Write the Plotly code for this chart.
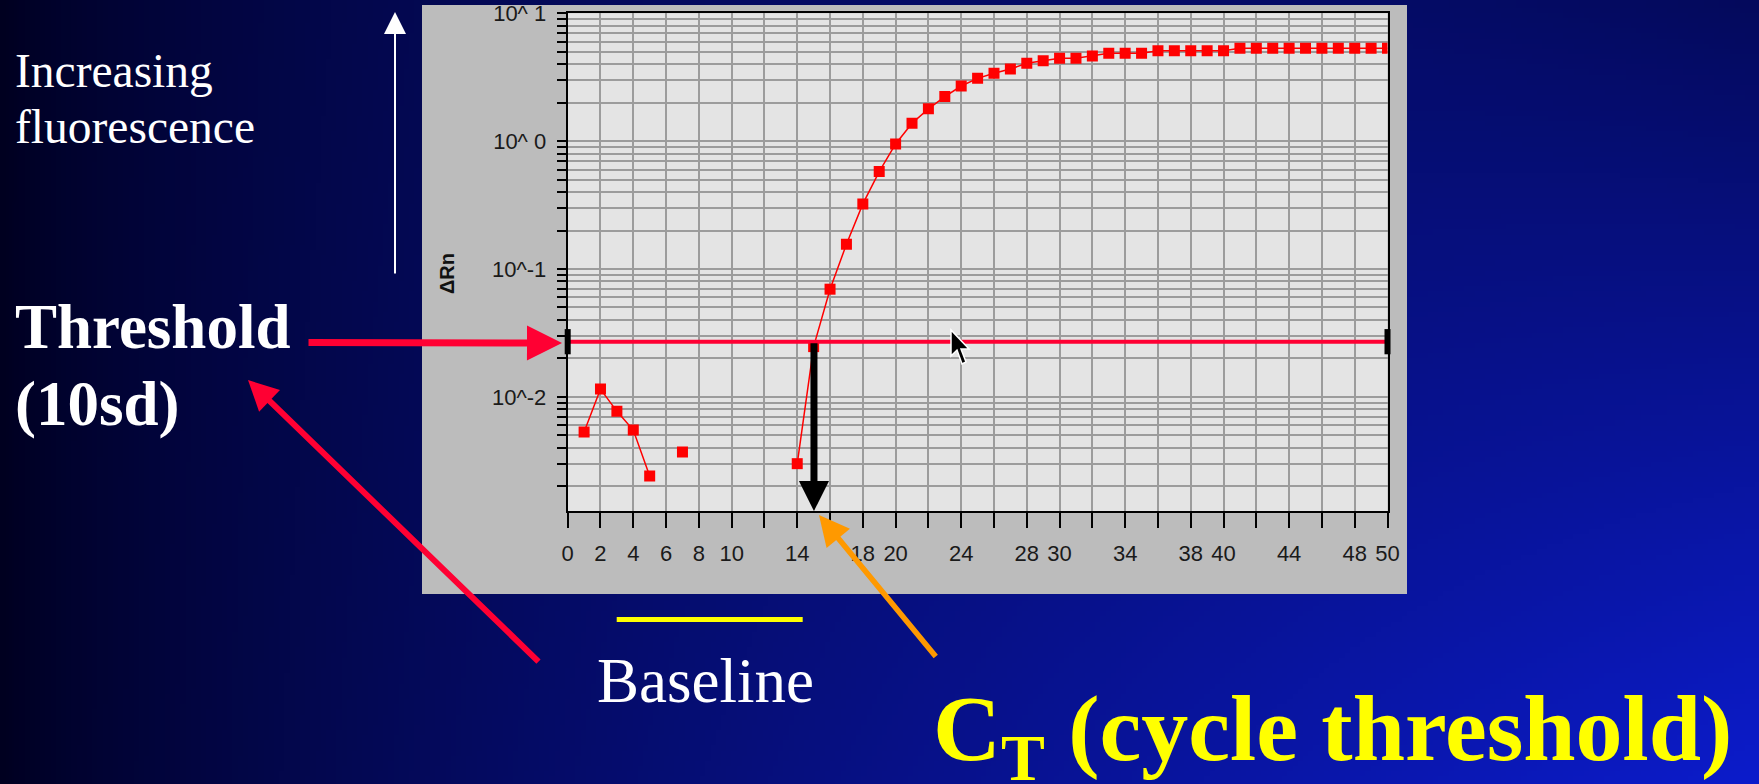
import math, zlib, struct, base64
import plotly.graph_objects as go

W, H = 1759, 784

# ---------------- data ----------------
cycles = list(range(1, 51))
delta_rn = [0.0053, 0.0115, 0.0077, 0.0055, 0.0024, None, 0.0037, None, None, None,
            None, None, None, 0.0030, 0.0247, 0.0695, 0.156, 0.323, 0.578, 0.95,
            1.38, 1.79, 2.23, 2.70, 3.10, 3.40, 3.67, 4.06, 4.26, 4.45,
            4.45, 4.64, 4.87, 4.87, 4.87, 5.10, 5.10, 5.10, 5.10, 5.10,
            5.32, 5.32, 5.32, 5.32, 5.32, 5.32, 5.32, 5.32, 5.32, 5.32]
threshold_x = [0, 50]
threshold_value = 0.027
ct_value = 15.02

x_tick_vals = list(range(0, 51, 2))
x_tick_shown = [0, 2, 4, 6, 8, 10, 14, 18, 20, 24, 28, 30, 34, 38, 40, 44, 48, 50]
x_tick_text = [str(v) if v in x_tick_shown else "" for v in x_tick_vals]
y_tick_vals = [0.01, 0.1, 1, 10]
y_tick_text = ["10^-2", "10^-1", "10^ 0", "10^ 1"]
y_minor_vals = [m * 10 ** e for e in range(-3, 1) for m in range(2, 10)]
y_log_range = [-2.893, 1.0]

# ---------------- helpers ----------------
def fx(px):
    return px / W

def fy(py):
    return 1 - py / H

EXT = 0.02  # background image overhang beyond the paper edges

def gradient_uri(w=352, h=158):
    rows = []
    for j in range(h):
        v = min(max((j / (h - 1)) * (1 + 2 * EXT) - EXT, 0), 1)
        row = bytearray([0])
        for i in range(w):
            u = min(max((i / (w - 1)) * (1 + 2 * EXT) - EXT, 0), 1)
            t = (u ** 0.75) * (1 - 0.65 * (1 - v) * u)
            row += bytes([int(12 * t), int(28 * t), int(32 + 172 * t)])
        rows.append(bytes(row))
    raw = b"".join(rows)

    def chunk(tag, data):
        return (struct.pack(">I", len(data)) + tag + data +
                struct.pack(">I", zlib.crc32(tag + data) & 0xffffffff))
    png = (b"\x89PNG\r\n\x1a\n" +
           chunk(b"IHDR", struct.pack(">IIBBBBB", w, h, 8, 2, 0, 0, 0)) +
           chunk(b"IDAT", zlib.compress(raw, 9)) + chunk(b"IEND", b""))
    return "data:image/png;base64," + base64.b64encode(png).decode()

SERIF = "Liberation Serif"
SANS = "Liberation Sans"

def text_ann(text, left, baseline, size, color):
    top = baseline - 0.891 * size - 2
    return dict(x=fx(left - 2), y=fy(top), xref="paper", yref="paper",
                xanchor="left", yanchor="top", text=text, showarrow=False,
                font=dict(family=SERIF, size=size, color=color))

def arrow_ann(tail, tip, color, width, size):
    return dict(x=fx(tip[0]), y=fy(tip[1]), xref="paper", yref="paper",
                ax=tail[0] - tip[0], ay=tail[1] - tip[1], axref="pixel", ayref="pixel",
                text="", showarrow=True, arrowhead=2, arrowwidth=width,
                arrowsize=size, arrowcolor=color, standoff=0)

# ---------------- figure ----------------
fig = go.Figure()
fig.add_trace(go.Scatter(x=cycles, y=delta_rn, mode="lines+markers",
                         connectgaps=False,
                         line=dict(color="#ff0000", width=1.5),
                         marker=dict(symbol="square", size=11, color="#ff0000"),
                         hoverinfo="skip"))
fig.add_trace(go.Scatter(x=threshold_x, y=[threshold_value] * 2, mode="lines",
                         line=dict(color="#ff0033", width=4), hoverinfo="skip"))
fig.add_trace(go.Scatter(x=threshold_x, y=[threshold_value] * 2, mode="markers",
                         cliponaxis=False,
                         marker=dict(symbol="line-ns", size=18,
                                     line=dict(color="black", width=6)),
                         hoverinfo="skip"))

grid_col = "#9c9c9c"
fig.update_xaxes(domain=[fx(567.7), fx(1387.5)], range=[0, 50],
                 tickmode="array", tickvals=x_tick_vals, ticktext=x_tick_text,
                 ticks="outside", ticklen=15, tickwidth=2, tickcolor="black",
                 showgrid=True, gridcolor=grid_col, gridwidth=1.5,
                 showline=True, linecolor="black", linewidth=2, mirror=True,
                 zeroline=False, ticklabelstandoff=7, automargin=False,
                 tickfont=dict(family=SANS, size=22, color="#1a1a1a"))
fig.update_yaxes(type="log", domain=[fy(511), fy(13.3)], range=y_log_range,
                 tickmode="array", tickvals=y_tick_vals, ticktext=y_tick_text,
                 ticks="outside", ticklen=9, tickwidth=2, tickcolor="black",
                 showgrid=True, gridcolor=grid_col, gridwidth=1.5,
                 minor=dict(tickmode="array", tickvals=y_minor_vals, ticks="outside",
                            ticklen=9, tickwidth=2, tickcolor="black",
                            showgrid=True, gridcolor=grid_col, gridwidth=1.5),
                 showline=True, linecolor="black", linewidth=2, mirror=True,
                 zeroline=False, ticklabelstandoff=6, automargin=False,
                 tickfont=dict(family=SANS, size=22, color="#1a1a1a"))

annotations = [
    text_ann("Increasing", 15, 87, 47.5, "white"),
    text_ann("fluorescence", 15, 143, 47.5, "white"),
    text_ann("<b>Threshold</b>", 15, 348, 63, "white"),
    text_ann("<b>(10sd)</b>", 15, 425, 63, "white"),
    text_ann("Baseline", 597, 701.7, 63, "white"),
    text_ann("<b>C<sub>T</sub> (cycle threshold)</b>", 933, 760, 94, "#ffff00"),
    dict(x=fx(447), y=fy(274), xref="paper", yref="paper", text="<b>ΔRn</b>",
         textangle=-90, showarrow=False, xanchor="center", yanchor="middle",
         font=dict(family=SANS, size=20, color="#111111")),
    arrow_ann((395, 275), (395, 12), "white", 2, 2.2),
    arrow_ann((307, 342.5), (562, 343), "#ff0033", 7, 1.0),
    arrow_ann((540, 663), (248, 380), "#ff0033", 6, 1.0),
    arrow_ann((937, 658), (819, 515), "#ff9900", 5.5, 1.1),
    dict(x=ct_value, y=y_log_range[0], xref="x", yref="y",
         ax=ct_value, ay=math.log10(threshold_value), axref="x", ayref="y",
         text="", showarrow=True, arrowhead=2, arrowwidth=7, arrowsize=0.86,
         arrowcolor="black", standoff=0),
]

# mouse cursor (decoration)
cur = [(0, 0), (0, 26), (6, 20), (11, 34), (15, 32), (10, 19), (18, 19)]
cx, cy = 951, 330
cursor_path = "M " + " L ".join(f"{fx(cx + a):.5f},{fy(cy + b):.5f}" for a, b in cur) + " Z"

shapes = [
    dict(type="rect", xref="paper", yref="paper", x0=fx(422), x1=fx(1407),
         y0=fy(594), y1=fy(5), fillcolor="#bcbcbc", line=dict(width=0), layer="below"),
    dict(type="rect", xref="x domain", yref="y domain", x0=0, x1=1, y0=0, y1=1,
         fillcolor="#e4e4e4", line=dict(width=0), layer="below"),
    dict(type="line", xref="paper", yref="paper", x0=fx(616.7), x1=fx(802.7),
         y0=fy(619.5), y1=fy(619.5), line=dict(color="#ffff00", width=5)),
    dict(type="path", xref="paper", yref="paper", path=cursor_path,
         fillcolor="black", line=dict(color="white", width=1.5)),
]

fig.update_layout(
    width=W, height=H, autosize=False,
    margin=dict(l=0, r=0, t=0, b=0, pad=0, autoexpand=False),
    paper_bgcolor="#020630", plot_bgcolor="#e4e4e4",
    showlegend=False,
    annotations=annotations, shapes=shapes,
    images=[dict(source=gradient_uri(), xref="paper", yref="paper",
                 x=-EXT, y=1 + EXT, sizex=1 + 2 * EXT, sizey=1 + 2 * EXT,
                 xanchor="left", yanchor="top", sizing="stretch", layer="below")],
)

fig.write_html("out.html", config={"displayModeBar": False},
               post_script="document.body.style.margin='0';document.body.style.overflow='hidden';")
